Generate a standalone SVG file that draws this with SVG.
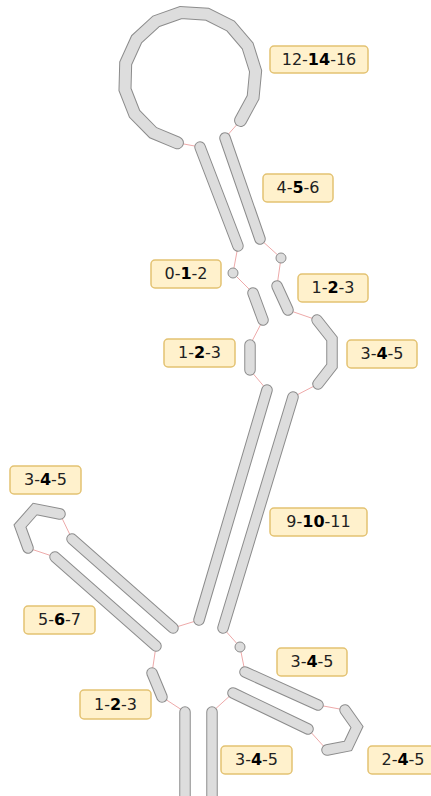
<svg xmlns="http://www.w3.org/2000/svg" width="431" height="796" viewBox="0 0 431 796">
<style>
.o{fill:none;stroke:#8c8c8c;stroke-width:11.5;stroke-linecap:round;stroke-linejoin:miter}
.f{fill:none;stroke:#dddddd;stroke-width:9.5;stroke-linecap:round;stroke-linejoin:miter}
.lo{stroke-width:13}
.lf{stroke-width:11}
.c{fill:#dddddd;stroke:#8c8c8c;stroke-width:1}
.l{fill:none;stroke:#eeaaaa;stroke-width:1}
.b{fill:#fff1cc;stroke:#e3c272;stroke-width:1.5}
.t{font-family:"DejaVu Sans","Verdana",sans-serif;font-size:16px;fill:#222;text-anchor:middle}
.t tspan{font-weight:bold;fill:#000}
</style>
<rect width="431" height="796" fill="#ffffff"/>
<g id="connectors">
<path class="l" d="M177.4,142.8 L200,147"/>
<path class="l" d="M240.6,120.4 L225,138"/>
<path class="l" d="M238,246 L233,273"/>
<path class="l" d="M233,273 L253,293"/>
<path class="l" d="M260,239 L281,258"/>
<path class="l" d="M281,258 L277,286"/>
<path class="l" d="M263,320 L250,345"/>
<path class="l" d="M288,310 L317,320"/>
<path class="l" d="M250,370 L267,390"/>
<path class="l" d="M318,384 L293,397"/>
<path class="l" d="M199,620 L173,628"/>
<path class="l" d="M223,628 L240,647"/>
<path class="l" d="M240,647 L245,672"/>
<path class="l" d="M318,705 L345,710"/>
<path class="l" d="M327,750 L308,729"/>
<path class="l" d="M233,693 L212,712"/>
<path class="l" d="M185,712 L162,697"/>
<path class="l" d="M152,673 L156,646"/>
<path class="l" d="M72,539 L60,514"/>
<path class="l" d="M28,548 L55,557"/>
</g>
<g id="loop-12-14-16">
<path class="o lo" d="M177.4,142.8 L153.1,132.7 L134.6,113.9 L125.0,89.5 L125.7,63.2 L136.6,39.2 L156.0,21.4 L180.8,12.6 L207.1,14.2 L230.6,26.0 L247.7,46.0 L255.6,71.1 L253.1,97.3 L240.6,120.4"/>
<path class="f lf" d="M177.4,142.8 L153.1,132.7 L134.6,113.9 L125.0,89.5 L125.7,63.2 L136.6,39.2 L156.0,21.4 L180.8,12.6 L207.1,14.2 L230.6,26.0 L247.7,46.0 L255.6,71.1 L253.1,97.3 L240.6,120.4"/>
</g>
<g id="stem-4-5-6">
<path class="o" d="M200,147 L238,246"/><path class="f" d="M200,147 L238,246"/>
<path class="o" d="M225,138 L260,239"/><path class="f" d="M225,138 L260,239"/>
</g>
<g id="node-0-1-2">
<circle class="c" cx="233" cy="273" r="5"/>
<circle class="c" cx="281" cy="258" r="5"/>
</g>
<g id="node-1-2-3-a">
<path class="o" d="M253,293 L263,320"/><path class="f" d="M253,293 L263,320"/>
<path class="o" d="M277,286 L288,310"/><path class="f" d="M277,286 L288,310"/>
</g>
<g id="node-1-2-3-b">
<path class="o" d="M250,345 L250,370"/><path class="f" d="M250,345 L250,370"/>
</g>
<g id="node-3-4-5-a">
<path class="o" d="M317,320 L332,339 L332,366 L318,384"/><path class="f" d="M317,320 L332,339 L332,366 L318,384"/>
</g>
<g id="stem-9-10-11">
<path class="o" d="M267,390 L199,620"/><path class="f" d="M267,390 L199,620"/>
<path class="o" d="M293,397 L223,628"/><path class="f" d="M293,397 L223,628"/>
</g>
<g id="node-3-4-5-b">
<path class="o" d="M60,514 L35,509 L20,526 L28,548"/><path class="f" d="M60,514 L35,509 L20,526 L28,548"/>
</g>
<g id="stem-5-6-7">
<path class="o" d="M72,539 L173,628"/><path class="f" d="M72,539 L173,628"/>
<path class="o" d="M55,557 L156,646"/><path class="f" d="M55,557 L156,646"/>
</g>
<g id="node-1-2-3-c">
<path class="o" d="M152,673 L162,697"/><path class="f" d="M152,673 L162,697"/>
</g>
<g id="node-3-4-5-c">
<circle class="c" cx="240" cy="647" r="5"/>
</g>
<g id="stem-3-4-5-d">
<path class="o" d="M245,672 L318,705"/><path class="f" d="M245,672 L318,705"/>
<path class="o" d="M233,693 L308,729"/><path class="f" d="M233,693 L308,729"/>
</g>
<g id="node-2-4-5">
<path class="o" d="M345,710 L357,727 L348,746 L327,750"/><path class="f" d="M345,710 L357,727 L348,746 L327,750"/>
</g>
<g id="stem-3-4-5-e">
<path class="o" d="M185,712 L185,805"/><path class="f" d="M185,712 L185,805"/>
<path class="o" d="M212,712 L212,805"/><path class="f" d="M212,712 L212,805"/>
</g>
<g id="labels">
<g id="label-12-14-16"><rect class="b" x="270" y="46" width="98" height="27" rx="4"/><text class="t" x="319" y="65">12-<tspan>14</tspan>-16</text></g>
<g id="label-4-5-6"><rect class="b" x="263" y="174" width="70" height="28" rx="4"/><text class="t" x="298" y="193">4-<tspan>5</tspan>-6</text></g>
<g id="label-0-1-2"><rect class="b" x="151" y="260" width="70" height="28" rx="4"/><text class="t" x="186" y="279">0-<tspan>1</tspan>-2</text></g>
<g id="label-1-2-3-r"><rect class="b" x="298" y="274" width="70" height="28" rx="4"/><text class="t" x="333" y="293">1-<tspan>2</tspan>-3</text></g>
<g id="label-1-2-3-l"><rect class="b" x="164" y="339" width="71" height="28" rx="4"/><text class="t" x="199.5" y="358">1-<tspan>2</tspan>-3</text></g>
<g id="label-3-4-5-r"><rect class="b" x="347" y="340" width="70" height="28" rx="4"/><text class="t" x="382" y="359">3-<tspan>4</tspan>-5</text></g>
<g id="label-9-10-11"><rect class="b" x="270" y="508" width="97" height="28" rx="4"/><text class="t" x="318.5" y="527">9-<tspan>10</tspan>-11</text></g>
<g id="label-3-4-5-tl"><rect class="b" x="10" y="466" width="71" height="28" rx="4"/><text class="t" x="45.5" y="485">3-<tspan>4</tspan>-5</text></g>
<g id="label-5-6-7"><rect class="b" x="24" y="606" width="71" height="28" rx="4"/><text class="t" x="59.5" y="625">5-<tspan>6</tspan>-7</text></g>
<g id="label-3-4-5-m"><rect class="b" x="277" y="648" width="70" height="28" rx="4"/><text class="t" x="312" y="667">3-<tspan>4</tspan>-5</text></g>
<g id="label-3-4-5-b"><rect class="b" x="221" y="746" width="71" height="28" rx="4"/><text class="t" x="256.5" y="765">3-<tspan>4</tspan>-5</text></g>
<g id="label-2-4-5"><rect class="b" x="368" y="746" width="70" height="28" rx="4"/><text class="t" x="403" y="765">2-<tspan>4</tspan>-5</text></g>
<g id="label-1-2-3-bl"><rect class="b" x="80" y="690" width="71" height="29" rx="4"/><text class="t" x="115.5" y="710">1-<tspan>2</tspan>-3</text></g>
</g>
</svg>
